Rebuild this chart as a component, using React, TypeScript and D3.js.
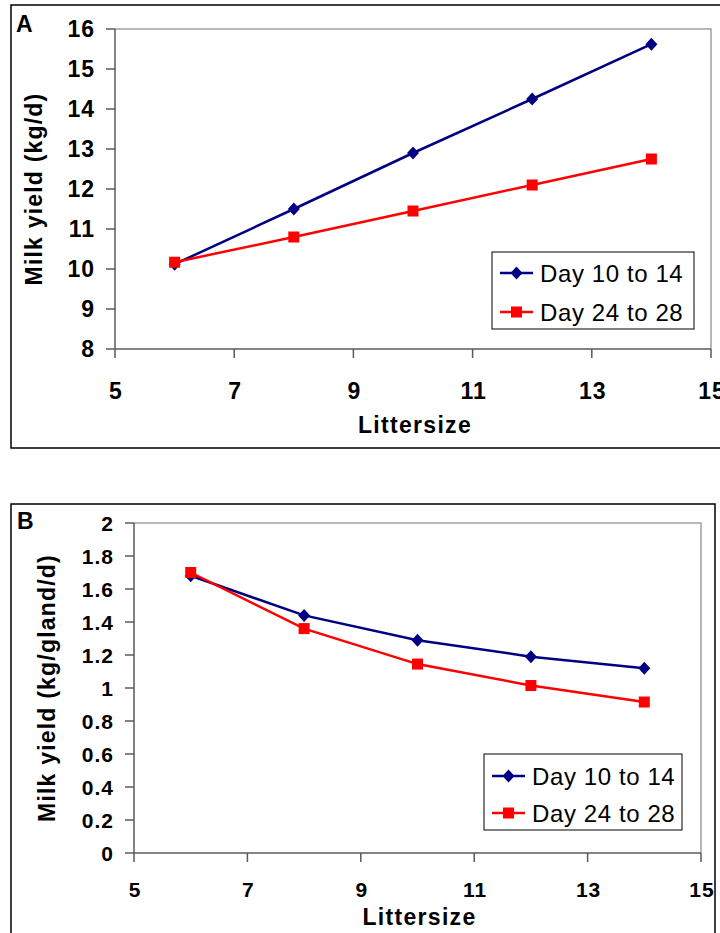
import React from "react";
import * as d3 from "d3";

// values
const litterSize = [6, 8, 10, 12, 14];
const yieldEarlyA = [10.12, 11.5, 12.9, 14.25, 15.62];
const yieldLateA = [10.17, 10.8, 11.45, 12.1, 12.75];
const yieldEarlyB = [1.68, 1.44, 1.29, 1.19, 1.12];
const yieldLateB = [1.7, 1.36, 1.145, 1.015, 0.915];
const xTicks = [5, 7, 9, 11, 13, 15];
const yTicksA = [8, 9, 10, 11, 12, 13, 14, 15, 16];
const yTicksB = [0, 0.2, 0.4, 0.6, 0.8, 1, 1.2, 1.4, 1.6, 1.8, 2];
const seriesNames = ["Day 10 to 14", "Day 24 to 28"];

const BLUE = "#000080";
const RED = "#ff0000";
const FONT = "Arial, 'Liberation Sans', Helvetica, sans-serif";

const diamond = (cx: number, cy: number, w = 6, h = 6.5) =>
  `M${cx},${cy - h}L${cx + w},${cy}L${cx},${cy + h}L${cx - w},${cy}Z`;

type PanelProps = {
  letter: string;
  box: [number, number, number, number];
  plot: { left: number; right: number; top: number; bottom: number };
  yDomain: [number, number];
  yTicks: number[];
  early: number[];
  late: number[];
  yTitle: string;
  yTitleX: number;
  xTitleY: number;
  xLabelY: number;
  tickSize: number;
  legend: { x: number; y: number; w: number; h: number; row1: number; row2: number };
  letterPos: [number, number];
};

function Panel(p: PanelProps) {
  const x = d3.scaleLinear().domain([5, 15]).range([p.plot.left, p.plot.right]);
  const y = d3.scaleLinear().domain(p.yDomain).range([p.plot.bottom, p.plot.top]);
  const line = d3
    .line<number>()
    .x((_, i) => x(litterSize[i]))
    .y((d) => y(d));
  const axisColor = "#5a5a5a";
  const lg = p.legend;
  const sampleX0 = lg.x + 8;
  const sampleX1 = lg.x + 41;
  const sampleMid = (sampleX0 + sampleX1) / 2;

  return (
    <g>
      <rect x={p.box[0]} y={p.box[1]} width={p.box[2]} height={p.box[3]} fill="none" stroke="#000" strokeWidth={1.5} />
      <text x={p.letterPos[0]} y={p.letterPos[1]} fontFamily={FONT} fontWeight="bold" fontSize={23}>
        {p.letter}
      </text>

      {/* plot area frame */}
      <path
        d={`M${p.plot.left},${p.plot.top}H${p.plot.right}V${p.plot.bottom}`}
        fill="none"
        stroke="#a0a0a0"
        strokeWidth={1.5}
      />

      {/* y axis */}
      <line x1={p.plot.left} x2={p.plot.left} y1={p.plot.top} y2={p.plot.bottom} stroke={axisColor} strokeWidth={1.5} />
      {p.yTicks.map((t) => (
        <g key={"y" + t}>
          <line x1={p.plot.left - 9} x2={p.plot.left} y1={y(t)} y2={y(t)} stroke={axisColor} strokeWidth={1.5} />
          <text
            x={p.plot.left - 20}
            y={y(t)}
            textAnchor="end"
            dominantBaseline="central"
            fontFamily={FONT}
            fontWeight="bold"
            fontSize={p.tickSize}
            letterSpacing={1}
          >
            {String(+t.toFixed(1))}
          </text>
        </g>
      ))}

      {/* x axis */}
      <line x1={p.plot.left} x2={p.plot.right} y1={p.plot.bottom} y2={p.plot.bottom} stroke={axisColor} strokeWidth={1.5} />
      {xTicks.map((t) => (
        <g key={"x" + t}>
          <line x1={x(t)} x2={x(t)} y1={p.plot.bottom} y2={p.plot.bottom + 9} stroke={axisColor} strokeWidth={1.5} />
          <text
            x={x(t) + 1}
            y={p.xLabelY}
            textAnchor="middle"
            fontFamily={FONT}
            fontWeight="bold"
            fontSize={p.tickSize}
            letterSpacing={1}
          >
            {t}
          </text>
        </g>
      ))}

      <text
        x={(p.plot.left + p.plot.right) / 2 + 2}
        y={p.xTitleY}
        textAnchor="middle"
        fontFamily={FONT}
        fontWeight="bold"
        fontSize={23}
        letterSpacing={1.3}
      >
        Littersize
      </text>
      <text
        transform={`translate(${p.yTitleX},${(p.plot.top + p.plot.bottom) / 2}) rotate(-90)`}
        textAnchor="middle"
        dominantBaseline="central"
        fontFamily={FONT}
        fontWeight="bold"
        fontSize={23}
        letterSpacing={1.2}
      >
        {p.yTitle}
      </text>

      {/* series */}
      <path d={line(p.early) || ""} fill="none" stroke={BLUE} strokeWidth={2.5} />
      {p.early.map((v, i) => (
        <path key={"e" + i} d={diamond(x(litterSize[i]), y(v))} fill={BLUE} />
      ))}
      <path d={line(p.late) || ""} fill="none" stroke={RED} strokeWidth={2.5} />
      {p.late.map((v, i) => (
        <rect key={"l" + i} x={x(litterSize[i]) - 5.5} y={y(v) - 5.5} width={11} height={11} fill={RED} />
      ))}

      {/* legend */}
      <rect x={lg.x} y={lg.y} width={lg.w} height={lg.h} fill="#fff" stroke="#000" strokeWidth={1} />
      <line x1={sampleX0} x2={sampleX1} y1={lg.row1} y2={lg.row1} stroke={BLUE} strokeWidth={2.5} />
      <path d={diamond(sampleMid, lg.row1)} fill={BLUE} />
      <line x1={sampleX0} x2={sampleX1} y1={lg.row2} y2={lg.row2} stroke={RED} strokeWidth={2.5} />
      <rect x={sampleMid - 5.5} y={lg.row2 - 5.5} width={11} height={11} fill={RED} />
      {[lg.row1, lg.row2].map((ry, i) => (
        <text
          key={"lt" + i}
          x={sampleX1 + 7}
          y={ry}
          dominantBaseline="central"
          fontFamily={FONT}
          fontSize={24}
          letterSpacing={0.6}
        >
          {seriesNames[i]}
        </text>
      ))}
    </g>
  );
}

export default function App() {
  return (
    <svg width={720} height={933} style={{ position: "absolute", left: 0, top: 0, background: "#fff" }}>
      <rect width={720} height={933} fill="#fff" />
      <Panel
        letter="A"
        box={[11, 5, 720, 443]}
        plot={{ left: 115, right: 711, top: 29, bottom: 349 }}
        yDomain={[8, 16]}
        yTicks={yTicksA}
        early={yieldEarlyA}
        late={yieldLateA}
        yTitle="Milk yield (kg/d)"
        yTitleX={34}
        xTitleY={433}
        xLabelY={399}
        tickSize={23}
        legend={{ x: 492, y: 252, w: 202, h: 77, row1: 273, row2: 312 }}
        letterPos={[16, 32]}
      />
      <Panel
        letter="B"
        box={[11, 504, 704, 440]}
        plot={{ left: 134, right: 701, top: 523, bottom: 853 }}
        yDomain={[0, 2]}
        yTicks={yTicksB}
        early={yieldEarlyB}
        late={yieldLateB}
        yTitle="Milk yield (kg/gland/d)"
        yTitleX={47}
        xTitleY={925}
        xLabelY={897}
        tickSize={21}
        legend={{ x: 484, y: 754, w: 198, h: 76, row1: 776, row2: 813 }}
        letterPos={[17, 529]}
      />
    </svg>
  );
}
